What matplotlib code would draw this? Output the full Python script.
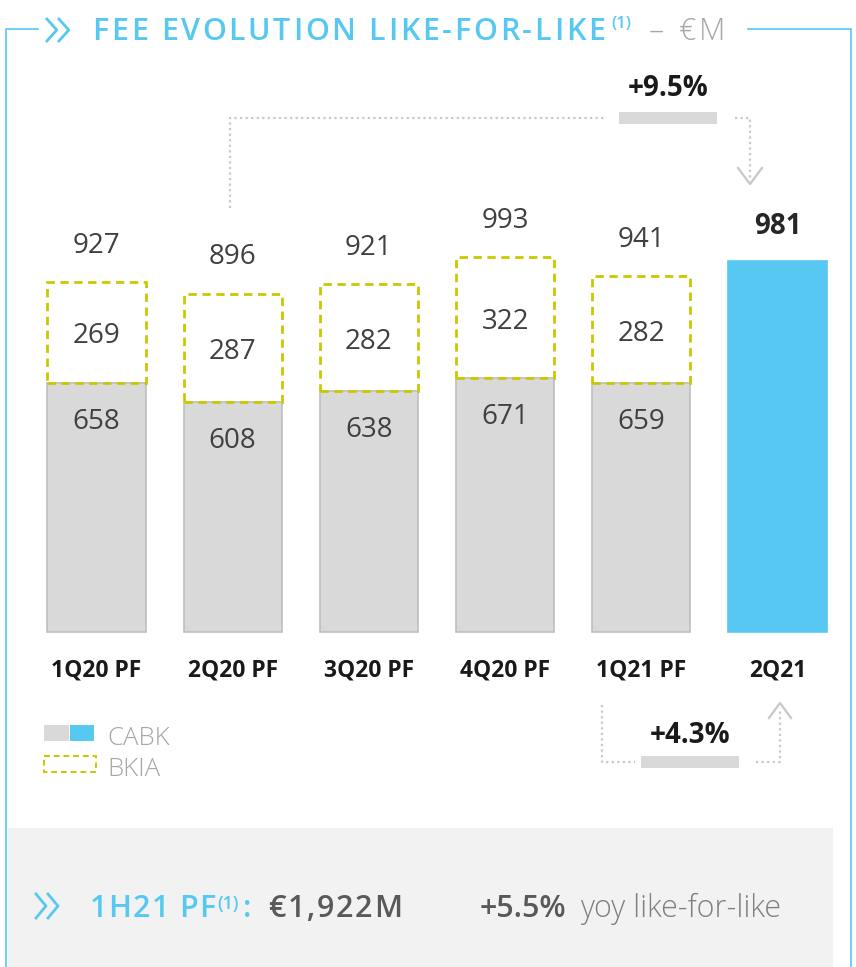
import matplotlib
matplotlib.use("Agg")
import matplotlib.pyplot as plt
from matplotlib.patches import Rectangle

plt.rcParams['font.family'] = ['Open Sans', 'DejaVu Sans']

# data
quarters = ["1Q20 PF", "2Q20 PF", "3Q20 PF", "4Q20 PF", "1Q21 PF", "2Q21"]
cabk = [658, 608, 638, 671, 659, 981]
bkia = [269, 287, 282, 322, 282, 0]
totals = [927, 896, 921, 993, 941, 981]
qoq_change = "+4.3%"
yoy_change = "+9.5%"
h1_total = "€1,922M"
h1_change = "+5.5%"

BLUE = "#56c8f2"
GREY = "#d9d9d9"
YELLOW = "#c9c900"
DOT = "#c8c8c8"
TXT = "#404040"

W, H = 856, 967
fig = plt.figure(figsize=(W / 100, H / 100), dpi=100)
r = fig.canvas.get_renderer()

# overlay axes in pixel units for the decorations
bg = fig.add_axes([0, 0, 1, 1])
bg.set_xlim(0, W)
bg.set_ylim(H, 0)
bg.axis('off')

# bar axes: baseline at pixel 632, 0.378 px per unit
scale = 0.378
y0, ybot, ytop = 632, 802, 65
left, step = 28.4, 136.2
ax = fig.add_axes([left / W, (H - ybot) / H, 6 * step / W, (ybot - ytop) / H])
ax.set_xlim(-0.5, 5.5)
ax.set_ylim(-(ybot - y0) / scale, (y0 - ytop) / scale)
ax.axis('off')

x = list(range(len(quarters)))
width = 0.72
colors = [GREY] * 5 + [BLUE]
edges = ["#bfbfbf"] * 5 + [BLUE]
ax.bar(x, cabk, width, color=colors, edgecolor=edges, linewidth=1.2)
ax.bar(x[:5], bkia[:5], width, bottom=cabk[:5], fill=False,
       edgecolor=YELLOW, linewidth=2, linestyle=(0, (3, 2)))

px = 1 / scale
for i in x:
    if i < 5:
        ax.text(i, totals[i] + 29 * px, str(totals[i]), ha='center', va='baseline',
                fontsize=20, color=TXT)
        ax.text(i, cabk[i] + bkia[i] / 2 - 11 * px, str(bkia[i]), ha='center',
                va='baseline', fontsize=20, color=TXT)
        ax.text(i, cabk[i] - 46 * px, str(cabk[i]), ha='center', va='baseline',
                fontsize=20, color=TXT)
    else:
        ax.text(i, totals[i] + 27 * px, str(totals[i]), ha='center', va='baseline',
                fontsize=20, color="#262626", fontweight='bold')
    ax.text(i, -44.5 * px, quarters[i], ha='center', va='baseline', fontsize=16.5,
            color="#1a1a1a", fontweight='bold')


def text_width(s, **kw):
    t = bg.text(0, 0, s + "|", **kw)
    w1 = t.get_window_extent(r).width
    t.remove()
    t = bg.text(0, 0, "|", **kw)
    w2 = t.get_window_extent(r).width
    t.remove()
    return w1 - w2


def spaced(x0, y, s, x1, **kw):
    # letter-spaced text running from x0 to about x1
    gap = (x1 - x0 - text_width(s, **kw)) / (len(s) - 1)
    for i, ch in enumerate(s):
        if ch == " ":
            continue
        bg.text(x0 + text_width(s[:i], **kw) + i * gap, y, ch,
                ha='left', va='baseline', **kw)


def chevrons(x0, yc, h, gap):
    for k in range(2):
        xs = x0 + k * gap
        bg.plot([xs, xs + h * 0.45, xs], [yc - h / 2, yc, yc + h / 2],
                color=BLUE, lw=2, solid_capstyle='butt')


# frame and title
bg.plot([38, 6, 6], [29, 29, H], color=BLUE, lw=1.2)
bg.plot([748, 851, 851], [29, 29, H], color=BLUE, lw=1.2)
chevrons(46, 30, 24, 12)
spaced(92, 40, "FEE EVOLUTION LIKE-FOR-LIKE", 605, fontsize=22,
       color=BLUE, fontweight='semibold')
bg.text(611, 28, "(1)", ha='left', va='baseline', fontsize=12, color=BLUE,
        fontweight='semibold')
bg.text(649, 40, "–", ha='left', va='baseline', fontsize=22, color="#a6a6a6",
        fontweight='light')
spaced(679, 40, "€M", 725, fontsize=22, color="#a6a6a6", fontweight='light')

# top arrow 2Q20 -> 2Q21
bg.plot([230, 230, 605], [208, 118, 118], color=DOT, lw=1.6, ls=(0, (1, 1.5)))
bg.plot([735, 750, 750], [118, 118, 180], color=DOT, lw=1.6, ls=(0, (1, 1.5)))
bg.plot([738, 750, 762], [168, 184, 168], color=DOT, lw=1.6)
bg.add_patch(Rectangle((619, 112), 98, 12, color=GREY, lw=0))
bg.text(668, 96, yoy_change, ha='center', va='baseline', fontsize=20,
        fontweight='bold', color="#1a1a1a")

# bottom arrow 1Q21 -> 2Q21
bg.plot([602, 602, 635], [705, 762, 762], color=DOT, lw=1.6, ls=(0, (1, 1.5)))
bg.plot([756, 780, 780], [762, 762, 708], color=DOT, lw=1.6, ls=(0, (1, 1.5)))
bg.plot([769, 780, 791], [718, 703, 718], color=DOT, lw=1.6)
bg.add_patch(Rectangle((641, 756), 98, 12, color=GREY, lw=0))
bg.text(690, 743, qoq_change, ha='center', va='baseline', fontsize=20,
        fontweight='bold', color="#1a1a1a")

# legend
bg.add_patch(Rectangle((44, 725), 25, 16, color=GREY, lw=0))
bg.add_patch(Rectangle((70, 725), 24, 16, color=BLUE, lw=0))
bg.add_patch(Rectangle((44, 756), 52, 16, fill=False, edgecolor=YELLOW,
                       lw=1.4, ls=(0, (3, 2))))
bg.text(107, 745, "CABK", ha='left', va='baseline', fontsize=18.5,
        color="#a6a6a6", fontweight='light')
bg.text(107, 776, "BKIA", ha='left', va='baseline', fontsize=18.5,
        color="#a6a6a6", fontweight='light')

# bottom summary box
bg.add_patch(Rectangle((8, 828), 825, H - 828, color="#f2f2f2", lw=0))
for k in range(2):
    xs = 36 + k * 12
    bg.plot([xs, xs + 10, xs], [894, 906, 918], color=BLUE, lw=2)
spaced(90, 917, "1H21 PF", 215, fontsize=22, color=BLUE, fontweight='semibold')
bg.text(217, 909, "(1)", ha='left', va='baseline', fontsize=13, color=BLUE,
        fontweight='semibold')
bg.text(243, 917, ":", ha='left', va='baseline', fontsize=22, color=BLUE,
        fontweight='semibold')
spaced(268, 917, h1_total, 402, fontsize=22, color="#595959",
       fontweight='semibold')
bg.text(480, 917, h1_change, ha='left', va='baseline', fontsize=22,
        color="#595959", fontweight='semibold')
bg.text(580, 917, "yoy like-for-like", ha='left', va='baseline', fontsize=22,
        color="#808080", fontweight='light')

fig.savefig("out.png", dpi=100)
